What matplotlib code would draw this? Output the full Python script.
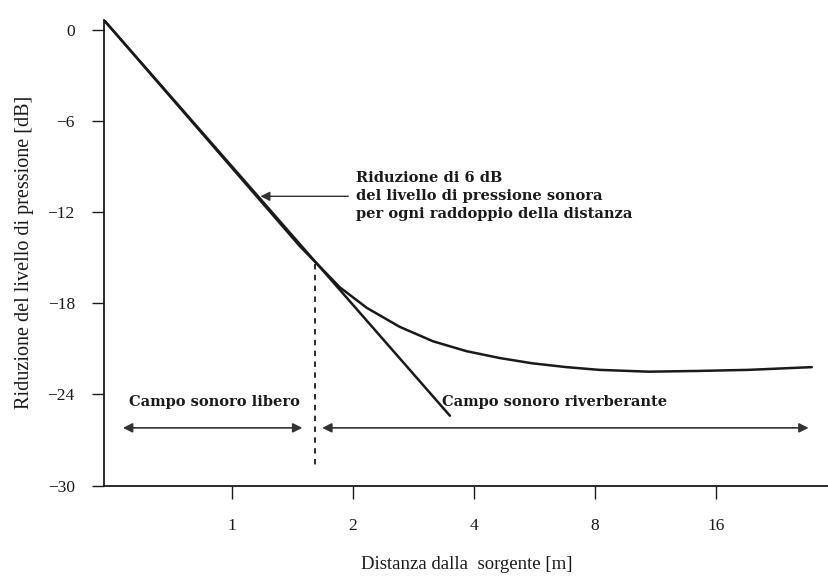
import matplotlib
matplotlib.use("Agg")
import matplotlib.pyplot as plt
import numpy as np

# --- data ---
curve_x = [0.482, 1.48, 1.66, 1.86, 2.17, 2.62, 3.17, 3.84, 4.64, 5.6, 6.8, 8.2, 10.9, 14.5, 19.3, 27.7]
curve_y = [0.65, -14.25, -15.6, -16.95, -18.3, -19.55, -20.5, -21.15, -21.6, -21.95, -22.2, -22.38, -22.5, -22.45, -22.38, -22.2]
free_x = [0.482, 3.49]
free_y = [0.65, -25.4]
xticks = [1, 2, 4, 8, 16]
xtick_labels = ["1", "2", "4", "8", "16"]
yticks = [0, -6, -12, -18, -24, -30]
ytick_labels = ["0", "\u22126", "\u221212", "\u221218", "\u221224", "\u221230"]
crit_distance = 1.615
crit_level = -15.4

plt.rcParams['font.family'] = ['Liberation Serif', 'DejaVu Serif']
ink = "#1a1a1a"
bold_font = ['DejaVu Serif']

fig = plt.figure(figsize=(8.29, 5.76), dpi=100)
ax = fig.add_axes([0.1255, 0.157, 0.874, 0.808])
ax.set_xscale('log', base=2)
ax.set_xlim(0.482, 30.5)
ax.set_ylim(-30, 0.65)

ax.plot(curve_x, curve_y, color=ink, lw=1.8, solid_capstyle='round',
        solid_joinstyle='round')
ax.plot(free_x, free_y, color=ink, lw=1.8, solid_capstyle='round')

# dashed critical-distance line
ax.plot([crit_distance, crit_distance], [crit_level, -28.9], color=ink, lw=1.3,
        ls=(0, (3, 3)))

# region arrows
arrow_kw = dict(arrowstyle='<|-|>', color='#333333', lw=1.2, mutation_scale=14,
                shrinkA=0, shrinkB=0)
ax.annotate('', xy=(0.537, -26.2), xytext=(1.50, -26.2), arrowprops=arrow_kw)
ax.annotate('', xy=(1.68, -26.2), xytext=(27.2, -26.2), arrowprops=arrow_kw)

ax.text(0.905, -24.5, 'Campo sonoro libero', ha='center', va='center',
        fontsize=10.5, fontweight='bold', color=ink, family=bold_font)
ax.text(6.35, -24.5, 'Campo sonoro riverberante', ha='center', va='center',
        fontsize=10.5, fontweight='bold', color=ink, family=bold_font)

# annotation
ax.annotate('', xy=(1.18, -10.95), xytext=(1.95, -10.95),
            arrowprops=dict(arrowstyle='-|>', color='#333333', lw=1.0,
                            mutation_scale=14, shrinkA=0, shrinkB=0))
ax.text(2.04, -10.95, 'Riduzione di 6 dB\ndel livello di pressione sonora\nper ogni raddoppio della distanza',
        ha='left', va='center', fontsize=10.5, fontweight='bold', color=ink,
        linespacing=1.35, family=bold_font)

ax.set_xticks(xticks)
ax.set_xticklabels(xtick_labels)
ax.xaxis.set_minor_locator(matplotlib.ticker.NullLocator())
ax.set_yticks(yticks)
ax.set_yticklabels(ytick_labels)
ax.tick_params(axis='both', direction='out', length=9, width=1.0, colors=ink,
               labelsize=12.5)
ax.tick_params(axis='x', pad=14)
ax.tick_params(axis='y', pad=12)

for s in ['top', 'right']:
    ax.spines[s].set_visible(False)
for s in ['left', 'bottom']:
    ax.spines[s].set_color(ink)
    ax.spines[s].set_linewidth(1.3)

ax.set_xlabel('Distanza dalla  sorgente [m]', fontsize=13.5, color=ink, labelpad=16)
ax.set_ylabel('Riduzione del livello di pressione [dB]', fontsize=14.5, color=ink, labelpad=10)

fig.savefig('out.png', dpi=100)
